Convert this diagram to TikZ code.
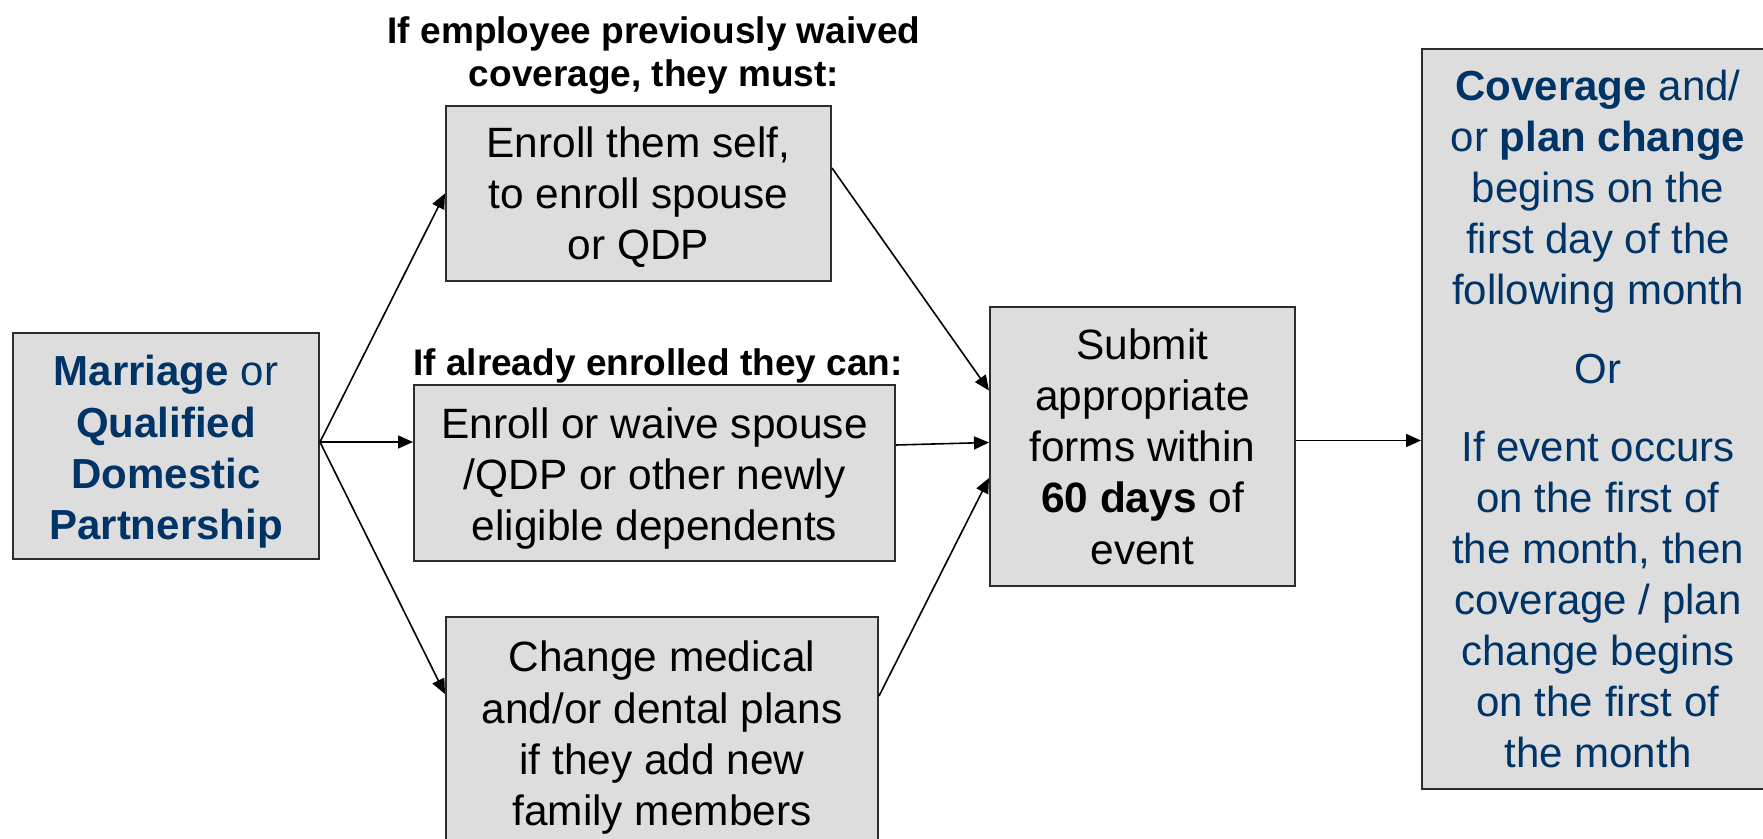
\documentclass[tikz,border=0pt]{standalone}
\usepackage{fontspec}
\setmainfont{Liberation Sans}
\usetikzlibrary{arrows.meta}
\definecolor{navy}{RGB}{0,51,102}
\definecolor{boxgray}{RGB}{221,221,221}
\definecolor{edgegray}{RGB}{45,45,45}
\begin{document}
\begin{tikzpicture}[x=0.5pt,y=-0.5pt,
  box/.style={draw=edgegray,line width=1pt,fill=boxgray,inner sep=0pt,align=center,
    font=\fontsize{21.2}{25.6}\selectfont},
  conn/.style={line width=0.8pt,-{Triangle[length=7.5pt,width=6.5pt]}},
  head/.style={font=\bfseries\fontsize{18.5}{21.5}\selectfont,align=center,inner sep=0pt}]
\useasboundingbox (0,0) rectangle (1763,839);
\clip (0,0) rectangle (1763,839);
\fill[white] (0,0) rectangle (1763,839);

\node[box,minimum width=153pt,minimum height=113pt,text=navy,font=\fontsize{21}{25.6}\selectfont] (marr) at (166,446)
  {\rule{0pt}{21pt}\textbf{Marriage} or\\\textbf{Qualified}\\\textbf{Domestic}\\\textbf{Partnership}};

\node[box,minimum width=192.5pt,minimum height=87.5pt] (top) at (638.5,193.5)
  {\rule{0pt}{19pt}Enroll them self,\\to enroll spouse\\or QDP};

\node[box,minimum width=240.5pt,minimum height=88pt] (mid) at (654.5,473)
  {\rule{0pt}{21pt}Enroll or waive spouse\\/QDP or other newly\\eligible dependents};

\node[box,minimum width=216pt,minimum height=118pt] (bot) at (662,735)
  {\rule{0pt}{18pt}Change medical\\and/or dental plans\\if they add new\\family members};

\node[box,minimum width=152.5pt,minimum height=139.5pt] (sub) at (1142.5,446.5)
  {Submit\\appropriate\\forms within\\\textbf{60 days} of\\event};

\node[box,minimum width=176pt,minimum height=370pt,text=navy,font=\fontsize{21}{25.5}\selectfont] (res) at (1598,419)
  {\textbf{Coverage} and/\\or \textbf{plan change}\\begins on the\\first day of the\\following month\\[13.8pt]Or\\[13.8pt]If event occurs\\on the first of\\the month, then\\coverage / plan\\change begins\\on the first of\\the month};

\node[head] (h1) at (654,56) {If employee previously waived\\coverage, they must:};
\node[head,anchor=base] (h2) at (658,376) {If already enrolled they can:};

\coordinate (fork) at ([yshift=2pt]marr.east);
\coordinate (subout) at ([yshift=3pt]sub.east);
\draw[conn] (fork) -- (top.west);
\draw[conn] (fork) -- (mid.west |- fork);
\draw[conn] (fork) -- ([yshift=-39pt]bot.north west);
\draw[conn] ([yshift=12.75pt]top.east) -- ([yshift=28pt]sub.west);
\draw[conn] ([yshift=14pt]mid.east) -- ([yshift=2pt]sub.west);
\draw[conn] ([yshift=-40pt]bot.north east) -- ([yshift=-15.75pt]sub.west);
\draw[conn] (subout) -- (res.west |- subout);
\end{tikzpicture}
\end{document}
